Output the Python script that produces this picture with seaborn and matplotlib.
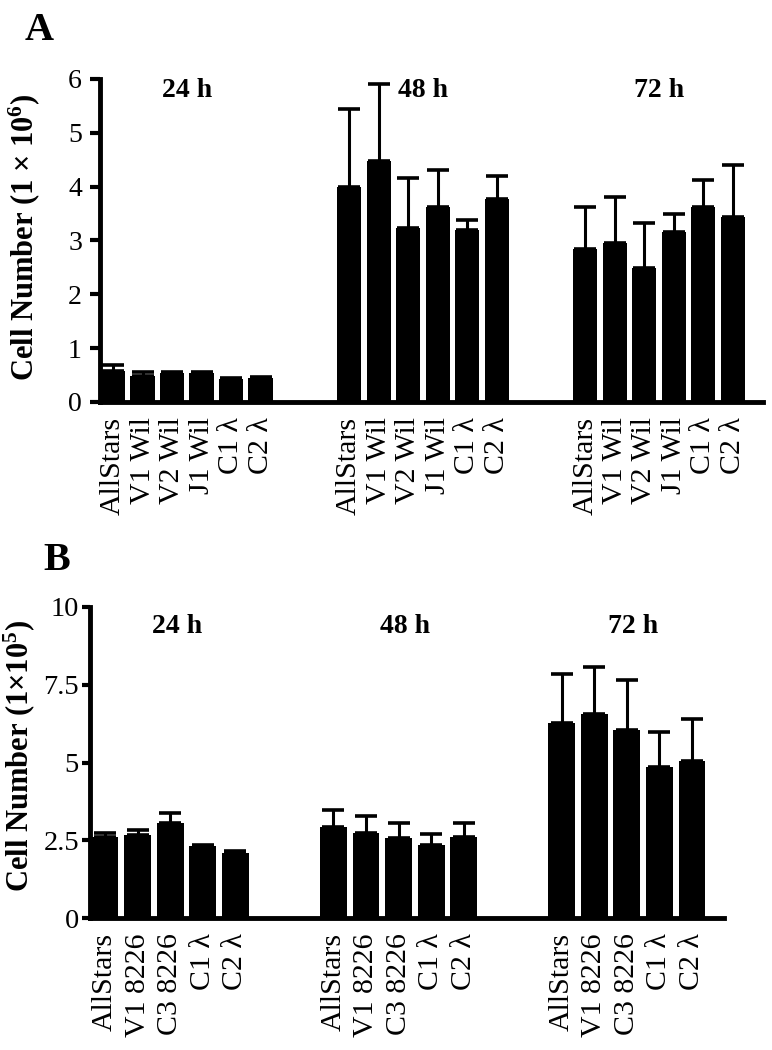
import numpy as np
import pandas as pd
import seaborn as sns
import matplotlib
matplotlib.use("Agg")
import matplotlib.pyplot as plt

# ---------------- data ----------------
times = ["24 h", "48 h", "72 h"]

a_labels = ["AllStars", "V1 Wil", "V2 Wil", "J1 Wil", "C1 λ", "C2 λ"]
a_means_24 = [0.58, 0.49, 0.53, 0.54, 0.43, 0.45]
a_err_24 = [0.10, 0.07, 0.02, 0.01, 0.01, 0.01]
a_means_48 = [4.00, 4.48, 3.23, 3.62, 3.20, 3.77]
a_err_48 = [1.45, 1.42, 0.93, 0.69, 0.18, 0.43]
a_means_72 = [2.84, 2.95, 2.48, 3.15, 3.62, 3.44]
a_err_72 = [0.78, 0.85, 0.85, 0.35, 0.50, 0.97]

b_labels = ["AllStars", "V1 8226", "C3 8226", "C1 λ", "C2 λ"]
b_means_24 = [2.60, 2.67, 3.05, 2.32, 2.09]
b_err_24 = [0.13, 0.16, 0.32, 0.02, 0.06]
b_means_48 = [2.92, 2.73, 2.57, 2.35, 2.60]
b_err_48 = [0.55, 0.55, 0.49, 0.35, 0.46]
b_means_72 = [6.27, 6.56, 6.04, 4.85, 5.05]
b_err_72 = [1.58, 1.51, 1.61, 1.13, 1.35]

a_yticks = [0, 1, 2, 3, 4, 5, 6]
b_yticks = [0, 2.5, 5, 7.5, 10]
b_yticklabels = ["0", "2.5", "5", "7.5", "10"]

# ---------------- style ----------------
sns.set_style("ticks")
plt.rcParams["font.family"] = ["Liberation Serif", "DejaVu Serif"]
plt.rcParams["mathtext.fontset"] = "custom"
plt.rcParams["mathtext.rm"] = "Liberation Serif"
plt.rcParams["mathtext.bf"] = "Liberation Serif:bold"
plt.rcParams["mathtext.it"] = "Liberation Serif:italic"
for k in ["text.color", "axes.labelcolor", "xtick.color", "ytick.color",
          "axes.edgecolor"]:
    plt.rcParams[k] = "black"


def build(labels, means_list, errs_list, n_gap=2):
    rows, order, ticklabels = [], [], []
    for gi, (t, m, e) in enumerate(zip(times, means_list, errs_list)):
        if gi > 0:
            for k in range(n_gap):
                order.append(f"gap{gi}{k}")
                ticklabels.append("")
        for lab, mv, ev in zip(labels, m, e):
            key = f"{t}|{lab}"
            rows.append(dict(key=key, time=t, label=lab, mean=mv, err=ev))
            order.append(key)
            ticklabels.append(lab)
    return pd.DataFrame(rows), order, ticklabels


def draw(ax, df, order, ticklabels, ylim, yticks, yticklabels, ylabel,
         title_y, title_dx, tick_fs, ylab_coords, xlim_pad, tick_len, tick_pad):
    sns.barplot(data=df, x="key", y="mean", order=order, color="black",
                saturation=1, width=0.82, errorbar=None, ax=ax, linewidth=0)
    errmap = dict(zip(df["key"], df["err"]))
    for p in ax.patches:
        xc = p.get_x() + p.get_width() / 2
        key = order[int(round(xc))]
        ax.errorbar(xc, p.get_height(), yerr=[[0], [errmap[key]]], fmt="none",
                    ecolor="black", elinewidth=2.2, capsize=8, capthick=2.6,
                    zorder=3)
    # group titles
    for t in times:
        pos = [i for i, k in enumerate(order) if k.startswith(t + "|")]
        ax.text(np.mean(pos) + title_dx, title_y, t, ha="center",
                va="baseline", fontsize=20, fontweight="bold")
    ax.set_xticks(range(len(order)))
    ax.set_xticklabels(ticklabels, rotation=90, fontsize=21.5)
    ax.tick_params(axis="x", length=0, pad=11)
    ax.set_yticks(yticks)
    ax.set_yticklabels(yticklabels, fontsize=tick_fs)
    ax.tick_params(axis="y", length=tick_len, width=3, pad=tick_pad,
                   direction="out")
    ax.set_ylim(*ylim)
    ax.set_xlim(-xlim_pad[0], len(order) - 1 + xlim_pad[1])
    ax.set_xlabel("")
    ax.set_ylabel(ylabel, fontsize=22, fontweight="bold")
    ax.yaxis.set_label_coords(*ylab_coords)
    for s in ["top", "right"]:
        ax.spines[s].set_visible(False)
    for s in ["left", "bottom"]:
        ax.spines[s].set_linewidth(3.5)
        ax.spines[s].set_color("black")


fig = plt.figure(figsize=(7.72, 10.5), dpi=100)

# Panel A
axA = fig.add_axes([100 / 772, 1 - 402 / 1050, 663 / 772, 323 / 1050])
dfA, orderA, tlA = build(a_labels, [a_means_24, a_means_48, a_means_72],
                         [a_err_24, a_err_48, a_err_72])
draw(axA, dfA, orderA, tlA, (0, 6), a_yticks, [str(v) for v in a_yticks],
     "Cell Number (1 × 10$^{\\mathbf{6}}$)", 5.67, 0.0, 20,
     (-0.0875, 0.51), (0.44, 1.02), 7, 6)

# Panel B
axB = fig.add_axes([90 / 772, 1 - 918 / 1050, 634 / 772, 311 / 1050])
dfB, orderB, tlB = build(b_labels, [b_means_24, b_means_48, b_means_72],
                         [b_err_24, b_err_48, b_err_72])
draw(axB, dfB, orderB, tlB, (0, 10), b_yticks, b_yticklabels,
     "Cell Number (1×10$^{\\mathbf{5}}$)", 9.16, 0.2, 20.5,
     (-0.0836, 0.52), (0.46, 0.98), 6, 2)

fig.text(25 / 772, 1 - 40 / 1050, "A", fontsize=29, fontweight="bold",
         ha="left", va="baseline")
fig.text(43 / 772, 1 - 570 / 1050, "B", fontsize=29, fontweight="bold",
         ha="left", va="baseline")

fig.savefig("out.png", dpi=100)
